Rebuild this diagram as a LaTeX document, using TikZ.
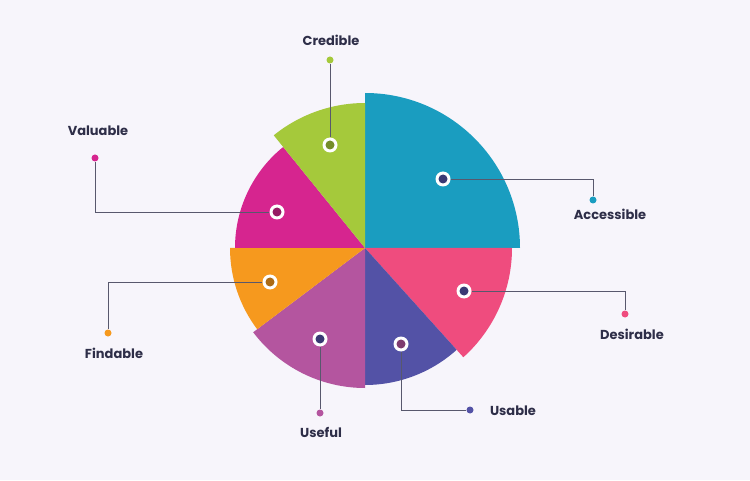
\documentclass[tikz,border=0pt]{standalone}
\usepackage{fontspec}
\setmainfont{Poppins}
\definecolor{bg}{HTML}{F7F5FB}
\definecolor{cAcc}{HTML}{1A9DC0}
\definecolor{cDes}{HTML}{EF4C7E}
\definecolor{cUsa}{HTML}{5352A6}
\definecolor{cUse}{HTML}{B4559F}
\definecolor{cFin}{HTML}{F6991E}
\definecolor{cVal}{HTML}{D6258F}
\definecolor{cCre}{HTML}{A5C93B}
\definecolor{txt}{HTML}{2E2E48}
\newcommand\Sector[4]{%
    \fill[#1] (C) -- +(#2:#4) arc[start angle=#2,end angle=#3,radius=#4] -- cycle;
}
\tikzset{
    marker/.style={circle,fill=white,minimum size=15pt,inner sep=0pt,
        path picture={\fill[#1!70!black] (path picture bounding box.center) circle (4.5pt);}},
    enddot/.style={circle,fill=#1,minimum size=7pt,inner sep=0pt},
    leader/.style={draw=txt!80,line width=0.7pt},
    lbl/.style={text=txt,font=\fontsize{13}{15}\selectfont\bfseries}
}
\begin{document}
\begin{tikzpicture}[x=1pt,y=1pt]
    \fill[bg] (0,0) rectangle (750,480);
    \useasboundingbox (0,0) rectangle (750,480);
    \coordinate (C) at (365,232);
    % sectors
    \Sector{cAcc}{0}{90}{155}
    \Sector{cDes}{-48}{0}{147}
    \Sector{cUsa}{-90}{-48}{137}
    \Sector{cUse}{-143}{-90}{140}
    \Sector{cFin}{-180}{-143}{135}
    \Sector{cVal}{129}{180}{130}
    \Sector{cCre}{90}{129}{145}
    % markers
    \node[marker=cUsa] (mAcc) at (443,301) {};
    \node[marker=cUsa] (mDes) at (464,189) {};
    \node[marker=cUse] (mUsa) at (401,136) {};
    \node[marker=cUsa] (mUse) at (320,141) {};
    \node[marker=cFin] (mFin) at (270,198) {};
    \node[marker=cVal] (mVal) at (277,268) {};
    \node[marker=cCre] (mCre) at (330,335) {};
    % end dots
    \node[enddot=cAcc] (dAcc) at (593,280) {};
    \node[enddot=cDes] (dDes) at (625,166) {};
    \node[enddot=cUsa] (dUsa) at (470,70) {};
    \node[enddot=cUse] (dUse) at (320,67) {};
    \node[enddot=cFin] (dFin) at (108,147) {};
    \node[enddot=cVal] (dVal) at (95,322) {};
    \node[enddot=cCre] (dCre) at (330,420) {};
    % leaders
    \draw[leader] (mAcc) -| (dAcc);
    \draw[leader] (mDes) -| (dDes);
    \draw[leader] (mUsa) |- (dUsa);
    \draw[leader] (mUse) -- (dUse);
    \draw[leader] (mFin) -| (dFin);
    \draw[leader] (mVal) -| (dVal);
    \draw[leader] (mCre) -- (dCre);
    % labels
    \node[lbl] (tAcc) at (610,266) {Accessible};
    \node[lbl] (tDes) at (632,146) {Desirable};
    \node[lbl] (tUsa) at (513,69) {Usable};
    \node[lbl] (tUse) at (321,48) {Useful};
    \node[lbl] (tFin) at (114,127) {Findable};
    \node[lbl] (tVal) at (98,349) {Valuable};
    \node[lbl] (tCre) at (331,440) {Credible};
\end{tikzpicture}
\end{document}
